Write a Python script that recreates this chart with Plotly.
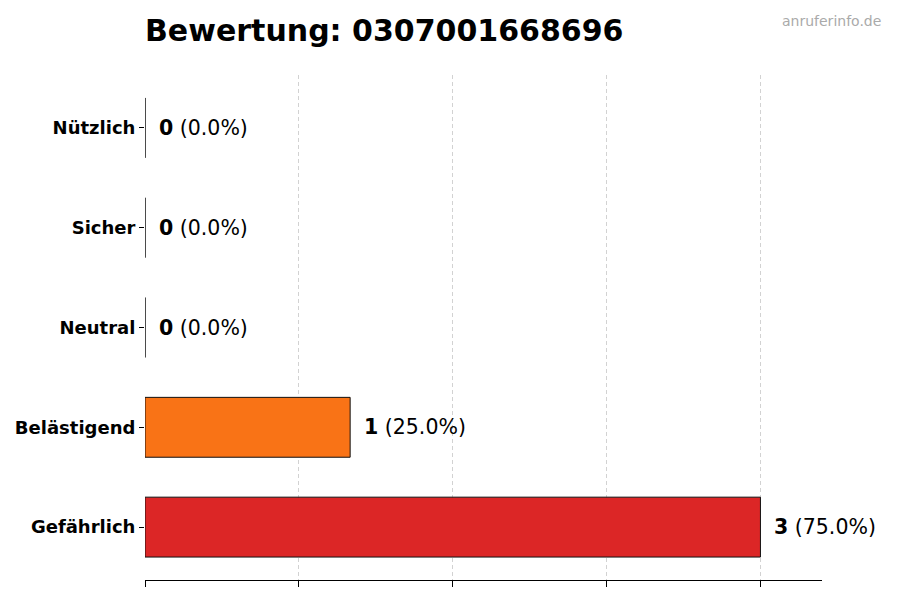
import plotly.graph_objects as go

# Data
categories = ['Gefährlich', 'Belästigend', 'Neutral', 'Sicher', 'Nützlich']
counts = [3, 1, 0, 0, 0]
percents = [75.0, 25.0, 0.0, 0.0, 0.0]
colors = ['#dc2626', '#f97316', '#9ca3af', '#22c55e', '#3b82f6']
grid_ticks = [0, 0.75, 1.5, 2.25, 3.0]

fig = go.Figure()

fig.add_trace(go.Bar(
    x=counts, y=categories, orientation='h', width=0.6,
    marker=dict(color=colors, line=dict(color='#111111', width=1)),
    hoverinfo='skip', showlegend=False,
))

# value labels next to each bar
for cat, c, p in zip(categories, counts, percents):
    fig.add_annotation(
        x=c, y=cat, xref='x', yref='y', xanchor='left', xshift=12,
        text=f'<b>{c}</b> ({p:.1f}%)', showarrow=False,
        font=dict(family='DejaVu Sans', size=20.5, color='black'),
    )

fig.update_layout(
    width=900, height=600,
    margin=dict(l=137, r=86, t=67, b=28),
    paper_bgcolor='white', plot_bgcolor='white',
    title=dict(text='<b>Bewertung: 0307001668696</b>', x=137 / 900, xanchor='left',
               y=1 - 22 / 600, yanchor='middle',
               font=dict(family='DejaVu Sans', size=30, color='black')),
    font=dict(family='DejaVu Sans', color='black'),
)

fig.add_annotation(
    text='anruferinfo.de', xref='paper', yref='paper', x=1.09, y=1.127,
    xanchor='right', yanchor='top', showarrow=False,
    font=dict(family='DejaVu Sans', size=14, color='#aaaaaa'),
)

fig.update_xaxes(
    range=[0, 3.3], tickvals=grid_ticks, showticklabels=False,
    showgrid=True, gridcolor='#d2d2d2', griddash='4px,3px', gridwidth=1,
    showline=True, linecolor='black', linewidth=1, automargin=False,
    ticks='outside', ticklen=6, tickcolor='black', zeroline=False,
)
fig.update_yaxes(
    range=[-0.53, 4.53], showline=False, showgrid=False, zeroline=False,
    ticks='outside', ticklen=5, tickcolor='black', ticklabelstandoff=0,
    automargin=False,
    tickfont=dict(family='DejaVu Sans', size=18, color='black'),
    categoryorder='array', categoryarray=categories,
    tickvals=categories, ticktext=[f'<b>{c}</b>' for c in categories],
)

fig.write_html('out.html')
